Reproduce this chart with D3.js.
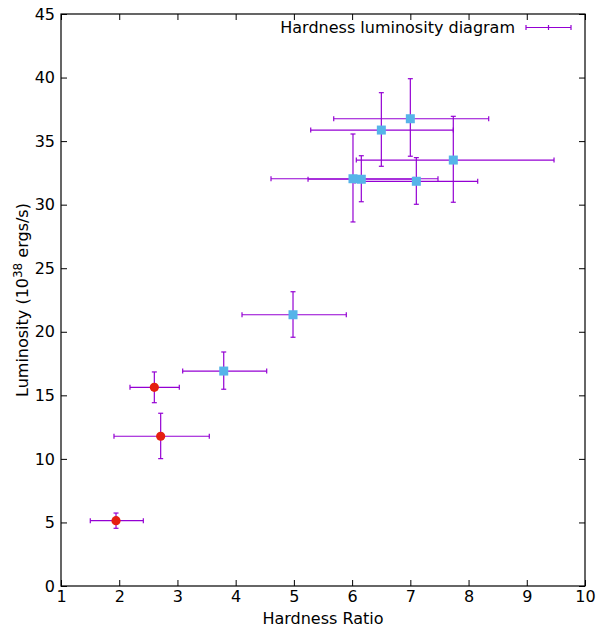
<!DOCTYPE html>
<html>
<head>
<meta charset="utf-8">
<script src="https://cdn.jsdelivr.net/npm/d3@7"></script>
<style>
  html, body { margin: 0; padding: 0; background: #fff; }
  svg { display: block; font-family: "DejaVu Sans", sans-serif; }
</style>
</head>
<body>
<svg id="chart" width="612" height="628"></svg>
<script>
// ---- data ----
const hardness   = [1.945, 2.712, 2.603, 3.795, 4.985, 6.015, 6.158, 7.103, 7.738, 6.502, 7.000];
const hardLow    = [1.503, 1.910, 2.185, 3.090, 4.109, 4.607, 5.243, 6.050, 6.072, 5.289, 5.684];
const hardHigh   = [2.414, 3.547, 3.032, 4.533, 5.900, 7.475, 7.063, 8.157, 9.468, 7.738, 8.346];
const luminosity = [5.14, 11.78, 15.63, 16.91, 21.34, 32.04, 32.00, 31.84, 33.51, 35.87, 36.76];
const lumLow     = [4.54, 10.02, 14.42, 15.48, 19.57, 28.64, 30.23, 30.03, 30.19, 33.02, 33.81];
const lumHigh    = [5.74, 13.59, 16.84, 18.41, 23.15, 35.56, 33.85, 33.70, 36.95, 38.81, 39.91];
const markerKind = ["circle", "circle", "circle", "square", "square", "square", "square", "square", "square", "square", "square"];
const xTicks = [1, 2, 3, 4, 5, 6, 7, 8, 9, 10];
const yTicks = [0, 5, 10, 15, 20, 25, 30, 35, 40, 45];
const legendLabel = "Hardness luminosity diagram";
const xTitle = "Hardness Ratio";

const W = 612, H = 628;
const m = { left: 61, right: 27, top: 14, bottom: 42 };
const svg = d3.select("#chart");

const x = d3.scaleLinear().domain([1, 10]).range([m.left, W - m.right]);
const y = d3.scaleLinear().domain([0, 45]).range([H - m.bottom, m.top]);

const errColor = "#9400d3";
const blue = "#56b4e9";
const red = "#e51e10";
const fs = 16;
const tickLen = 6;

// axes (ticks pointing inward, mirrored)
const gx = svg.append("g").attr("transform", `translate(0,${y(0)})`)
  .call(d3.axisBottom(x).tickValues(xTicks).tickFormat(d3.format("d")).tickSize(-tickLen).tickPadding(5));
const gxTop = svg.append("g").attr("transform", `translate(0,${y(45)})`)
  .call(d3.axisTop(x).tickValues(xTicks).tickFormat("").tickSize(-tickLen));
const gy = svg.append("g").attr("transform", `translate(${x(1)},0)`)
  .call(d3.axisLeft(y).tickValues(yTicks).tickFormat(d3.format("d")).tickSize(-tickLen).tickPadding(6));
const gyR = svg.append("g").attr("transform", `translate(${x(10)},0)`)
  .call(d3.axisRight(y).tickValues(yTicks).tickFormat("").tickSize(-tickLen));

[gx, gxTop, gy, gyR].forEach(g => {
  g.select(".domain").remove();
  g.selectAll(".tick line").attr("stroke", "#000").attr("stroke-width", 1);
  g.selectAll(".tick text").attr("font-size", fs).attr("font-family", "DejaVu Sans").attr("fill", "#000");
});

// frame
svg.append("rect")
  .attr("x", x(1)).attr("y", y(45))
  .attr("width", x(10) - x(1)).attr("height", y(0) - y(45))
  .attr("fill", "none").attr("stroke", "#000").attr("stroke-width", 1.2);

// axis titles
svg.append("text")
  .attr("x", (x(1) + x(10)) / 2).attr("y", 624)
  .attr("text-anchor", "middle").attr("font-size", fs).text(xTitle);

const yt = svg.append("text")
  .attr("transform", `translate(28,${(y(0) + y(45)) / 2}) rotate(-90)`)
  .attr("text-anchor", "middle").attr("font-size", fs);
yt.append("tspan").text("Luminosity (10");
yt.append("tspan").attr("dy", -6).attr("font-size", 12).text("38");
yt.append("tspan").attr("dy", 6).text(" ergs/s)");

// error bars
const idx = d3.range(hardness.length);
const cap = 2.5;
const eb = svg.append("g").attr("stroke", errColor).attr("stroke-width", 1.2).attr("fill", "none");
idx.forEach(i => {
  const cx = x(hardness[i]), cy = y(luminosity[i]);
  const x0 = x(hardLow[i]), x1 = x(hardHigh[i]);
  const y0 = y(lumLow[i]), y1 = y(lumHigh[i]);
  eb.append("line").attr("x1", x0).attr("x2", x1).attr("y1", cy).attr("y2", cy);
  eb.append("line").attr("x1", x0).attr("x2", x0).attr("y1", cy - cap).attr("y2", cy + cap);
  eb.append("line").attr("x1", x1).attr("x2", x1).attr("y1", cy - cap).attr("y2", cy + cap);
  eb.append("line").attr("x1", cx).attr("x2", cx).attr("y1", y0).attr("y2", y1);
  eb.append("line").attr("y1", y0).attr("y2", y0).attr("x1", cx - cap).attr("x2", cx + cap);
  eb.append("line").attr("y1", y1).attr("y2", y1).attr("x1", cx - cap).attr("x2", cx + cap);
});

// markers
const sq = 9;
svg.append("g").selectAll("rect").data(idx.filter(i => markerKind[i] === "square")).join("rect")
  .attr("x", i => x(hardness[i]) - sq / 2).attr("y", i => y(luminosity[i]) - sq / 2)
  .attr("width", sq).attr("height", sq).attr("fill", blue);
svg.append("g").selectAll("circle").data(idx.filter(i => markerKind[i] === "circle")).join("circle")
  .attr("cx", i => x(hardness[i])).attr("cy", i => y(luminosity[i]))
  .attr("r", 4.6).attr("fill", red);

// legend
const ly = 27.5, lx0 = 526, lx1 = 571;
svg.append("text").attr("x", 515).attr("y", ly).attr("dy", "0.35em")
  .attr("text-anchor", "end").attr("font-size", fs).text(legendLabel);
const lg = svg.append("g").attr("stroke", errColor).attr("stroke-width", 1.2);
lg.append("line").attr("x1", lx0).attr("x2", lx1).attr("y1", ly).attr("y2", ly);
[lx0, (lx0 + lx1) / 2, lx1].forEach(px =>
  lg.append("line").attr("x1", px).attr("x2", px).attr("y1", ly - cap).attr("y2", ly + cap));
</script>
</body>
</html>
